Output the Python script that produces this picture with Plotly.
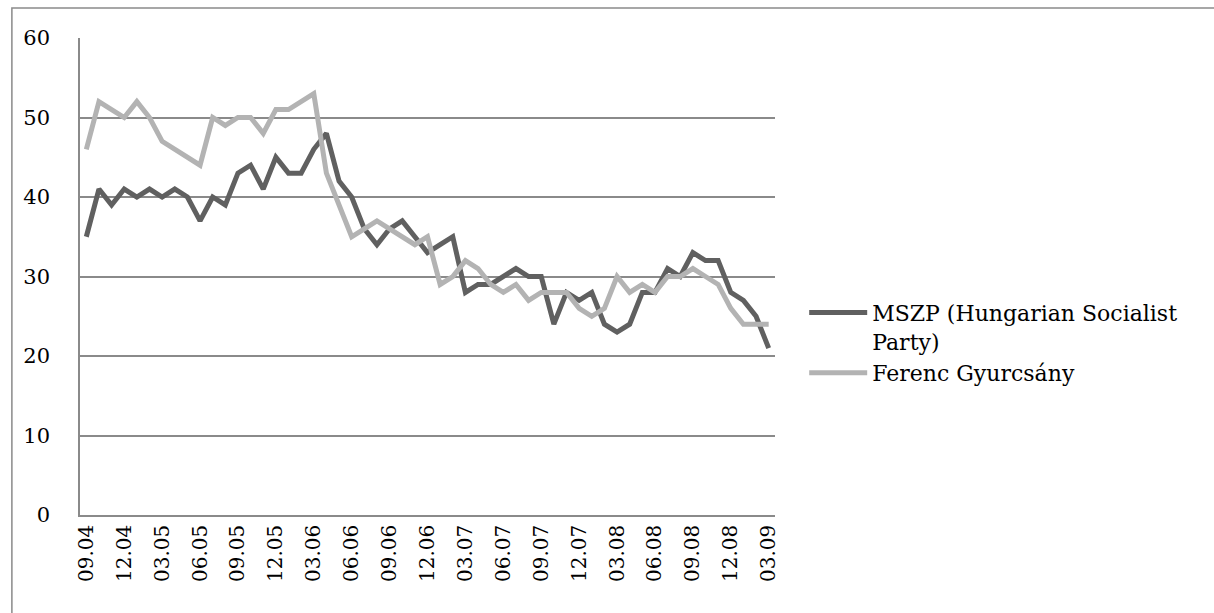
import plotly.graph_objects as go

# Months from 09.04 to 03.09 (monthly)
months = []
m, y = 9, 4
while (y, m) <= (9, 3):
    months.append(f"{m:02d}.{y:02d}")
    m += 1
    if m > 12:
        m = 1
        y += 1

mszp = [35, 41, 39, 41, 40, 41, 40, 41, 40, 37,
        40, 39, 43, 44, 41, 45, 43, 43, 46, 48,
        42, 40, 36, 34, 36, 37, 35, 33, 34,
        35, 28, 29, 29, 30, 31, 30, 30, 24, 28, 27, 28, 24, 23, 24, 28, 28,
        31, 30, 33, 32, 32, 28, 27, 25, 21]
gyurcsany = [46, 52, 51, 50, 52, 50, 47, 46, 45, 44,
             50, 49, 50, 50, 48, 51, 51, 52, 53, 43,
             39, 35, 36, 37, 36, 35, 34, 35, 29,
             30, 32, 31, 29, 28, 29, 27, 28, 28, 28, 26, 25, 26, 30, 28, 29, 28,
             30, 30, 31, 30, 29, 26, 24, 24, 24]

series_names = ["MSZP (Hungarian Socialist<br>Party)", "Ferenc Gyurcsány"]
series_colors = ["#606060", "#b3b3b3"]

y_ticks = [0, 10, 20, 30, 40, 50, 60]
x_tick_idx = list(range(0, len(months), 3))
x_tick_text = [months[i] for i in x_tick_idx]

FONT = "DejaVu Serif"

fig = go.Figure()
for name, vals, col in zip(series_names, [mszp, gyurcsany], series_colors):
    fig.add_trace(go.Scatter(
        x=list(range(len(months))), y=vals, mode="lines", name=name,
        line=dict(color=col, width=5)))

fig.update_layout(
    width=1214, height=613,
    margin=dict(l=80, r=439, t=38, b=98),
    paper_bgcolor="white", plot_bgcolor="white",
    font=dict(family=FONT, color="#000000", size=20),
    showlegend=True,
    legend=dict(x=1.042, y=0.468, xanchor="left", yanchor="top",
                font=dict(family=FONT, size=22, color="#000000"),
                itemwidth=58, valign="top", tracegroupgap=0,
                bgcolor="rgba(0,0,0,0)"),
    xaxis=dict(range=[-0.5, len(months) - 0.5], tickmode="array",
               tickvals=x_tick_idx, ticktext=x_tick_text, tickangle=-90,
               showgrid=False, zeroline=False, showline=True,
               linecolor="#8a8a8a", linewidth=1.5, ticks="",
               tickfont=dict(family=FONT, size=20, color="#000000")),
    yaxis=dict(range=[0, 60], tickmode="array", tickvals=y_ticks,
               showgrid=True, gridcolor="#8a8a8a", gridwidth=1.5,
               zeroline=False, showline=True, linecolor="#8a8a8a",
               linewidth=1.5, ticks="", ticklabelstandoff=24,
               tickfont=dict(family=FONT, size=21, color="#000000")),
    shapes=[dict(type="rect", xref="paper", yref="paper",
                 x0=-0.098, x1=1.75, y0=-0.4, y1=1.063,
                 line=dict(color="#8a8a8a", width=1.5),
                 fillcolor="rgba(0,0,0,0)", layer="below")],
)

fig.write_html("out.html")
